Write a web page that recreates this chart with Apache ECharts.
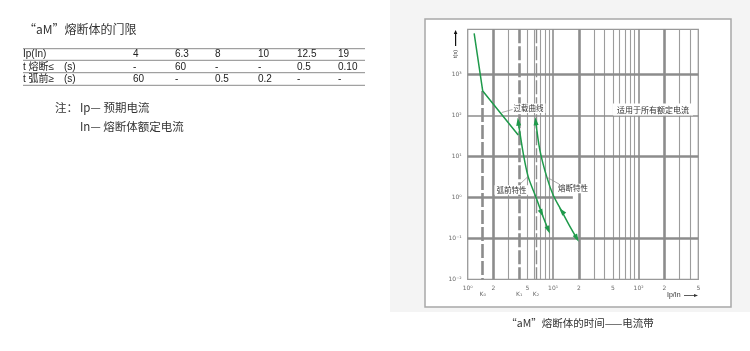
<!DOCTYPE html>
<html><head><meta charset="utf-8">
<script src="https://cdn.jsdelivr.net/npm/echarts@6/dist/echarts.min.js"></script>
<style>html,body{margin:0;padding:0;background:#fff}#c{width:750px;height:351px}</style>
</head><body><div id="c"></div>
<script>
// ---- data ----
const tableCols = ['4', '6.3', '8', '10', '12.5', '19'];
const fuseTimes = ['-', '60', '-', '-', '0.5', '0.10'];
const preArcTimes = ['60', '-', '0.5', '0.2', '-', '-'];

const overloadCurve = [[1.19, 10000], [1.5, 390], [3.9, 33]];
const preArcCurve = [[3.9, 70], [4.5, 10.8], [5.1, 3.2], [6.3, 1], [7.35, 0.41], [8.8, 0.16]];
const meltCurve = [[6.25, 72], [7.0, 14], [8.4, 3.2], [10, 1.14], [12.6, 0.46], [15.4, 0.21], [18.9, 0.1]];

const xLabelVals = [1, 2, 5, 10, 20, 50, 100, 200, 500];
const xLabelTexts = ['10⁰', '2', '5', '10¹', '2', '5', '10²', '2', '5'];
const yLabelVals = [1000, 100, 10, 1, 0.1, 0.01];
const yLabelTexts = ['10³', '10²', '10¹', '10⁰', '10⁻¹', '10⁻²'];
const kVals = [1.5, 4, 6.3];
const kTexts = ['K₀', 'K₁', 'K₂'];

const xGridThin = [3, 5, 6, 7, 8, 9, 30, 40, 50, 60, 70, 80, 90, 300, 400];
const xGridMid = [10, 100];
const xGridThick = [2, 20, 200];
const yGridMid = [100];
const yGridThick = [1000, 10, 0.1];
const k0Top = 390;
const oneSecondLineEnd = 17;

// ---- styles / layout ----
const GREEN = '#1f9a4b';
const GRID_C = '#8c8c8c';
const THIN_C = '#9c9c9c';
const X_MIN = 1, X_MAX = 500, Y_MIN = 0.01, Y_MAX = 12530;

// arrow heads: index -> rotation (deg)
const preArcArrows = {0: 7.5, 4: 205.8, 5: 202};
const meltArrows = {0: 5.8, 4: 40, 6: 208};

function withArrows(curve, arrows) {
  return curve.map((p, i) => arrows[i] !== undefined
    ? {value: p, symbol: 'triangle', symbolSize: [5, 8], symbolRotate: arrows[i], itemStyle: {color: GREEN}}
    : {value: p, symbol: 'none'});
}

const gridLines = [];
xGridThin.forEach(v => gridLines.push({xAxis: v, lineStyle: {color: THIN_C, width: 1.1, type: 'solid'}}));
xGridMid.forEach(v => gridLines.push({xAxis: v, lineStyle: {color: GRID_C, width: 1.6, type: 'solid'}}));
xGridThick.forEach(v => gridLines.push({xAxis: v, lineStyle: {color: GRID_C, width: 2.6, type: 'solid'}}));
yGridMid.forEach(v => gridLines.push({yAxis: v, lineStyle: {color: GRID_C, width: 1.5, type: 'solid'}}));
yGridThick.forEach(v => gridLines.push({yAxis: v, lineStyle: {color: GRID_C, width: 2.6, type: 'solid'}}));
gridLines.push([{coord: [X_MIN, 1], lineStyle: {color: GRID_C, width: 2.6, type: 'solid'}}, {coord: [oneSecondLineEnd, 1]}]);
gridLines.push([{coord: [kVals[0], k0Top], lineStyle: {color: GRID_C, width: 2.6, type: [14, 3]}}, {coord: [kVals[0], Y_MIN]}]);
gridLines.push([{coord: [kVals[1], Y_MAX], lineStyle: {color: GRID_C, width: 2.6, type: [14, 3]}}, {coord: [kVals[1], Y_MIN]}]);
gridLines.push([{coord: [kVals[2], Y_MAX], lineStyle: {color: GRID_C, width: 1.4, type: [14, 3]}}, {coord: [kVals[2], Y_MIN]}]);

const FONT_LAT = "'Liberation Sans', 'Noto Sans CJK SC', sans-serif";
const FONT_CJK = "'Noto Sans CJK SC', 'Liberation Sans', sans-serif";
const FONT_SUP = "'DejaVu Sans', sans-serif";

const g = [
  {type: 'rect', shape: {x: 390, y: 0, width: 360, height: 312}, style: {fill: '#f4f4f4'}, z: -10, silent: true},
  {type: 'rect', shape: {x: 425, y: 19, width: 306, height: 288}, style: {fill: '#fff', stroke: '#a8a8a8', lineWidth: 1.5}, z: -9, silent: true},
  {type: 'text', x: 24, y: 29, style: {text: '“aM”熔断体的门限', font: "12px " + FONT_CJK, fill: '#333', verticalAlign: 'middle'}},
  {type: 'text', x: 55, y: 108, style: {text: '注：', font: "11.5px " + FONT_CJK, fill: '#333', verticalAlign: 'middle'}},
  {type: 'text', x: 80, y: 108, style: {text: 'Ip— 预期电流', font: "11.5px " + FONT_CJK, fill: '#333', verticalAlign: 'middle'}},
  {type: 'text', x: 80, y: 127, style: {text: 'In— 熔断体额定电流', font: "11.5px " + FONT_CJK, fill: '#333', verticalAlign: 'middle'}},
  {type: 'text', x: 580, y: 323, style: {text: '“aM”熔断体的时间——电流带', font: "10.5px " + FONT_CJK, fill: '#333', align: 'center', verticalAlign: 'middle'}}
];
[48.7, 60.3, 72.7, 85.3].forEach(y => g.push({type: 'line', shape: {x1: 23, y1: y, x2: 365, y2: y}, style: {stroke: '#8a8a8a', lineWidth: 1}}));
const colX = [133, 175, 215, 258, 297, 338];
const rowY = [54.2, 66.8, 79.3];
const rowLabels = ['Ip(In)', 't 熔断≤', 't 弧前≥'];
rowLabels.forEach((t, i) => g.push({type: 'text', x: 23, y: rowY[i], style: {text: t, font: "10px " + FONT_LAT, fill: '#222', verticalAlign: 'middle'}}));
[1, 2].forEach(i => g.push({type: 'text', x: 64, y: rowY[i], style: {text: '(s)', font: "10px " + FONT_LAT, fill: '#222', verticalAlign: 'middle'}}));
[tableCols, fuseTimes, preArcTimes].forEach((row, r) => row.forEach((t, c) => g.push({
  type: 'text', x: colX[c], y: rowY[r], style: {text: t, font: "10px " + FONT_LAT, fill: '#222', verticalAlign: 'middle'}
})));
function note(text, cx, cy, size, pad) {
  return {type: 'text', x: cx, y: cy, z: 20, style: {text: text, font: size + "px " + FONT_CJK, fill: '#333', align: 'center', verticalAlign: 'middle', backgroundColor: '#fff', padding: pad}};
}
g.push(note('过载曲线', 528.5, 108.3, 7.5, [1, 2]));
g.push(note('适用于所有额定电流', 653, 109.5, 8, [2, 4]));
g.push(note('弧前特性', 511.5, 190, 7.5, [1, 2]));
g.push(note('熔断特性', 573, 188.5, 7.5, [1, 2]));
[[512.5, 109.5, 501.7, 112.5], [520, 184, 527.5, 177], [546.5, 177, 559, 184]].forEach(l =>
  g.push({type: 'line', z: 21, shape: {x1: l[0], y1: l[1], x2: l[2], y2: l[3]}, style: {stroke: '#888', lineWidth: 0.7}}));
g.push({type: 'line', shape: {x1: 455.6, y1: 46, x2: 455.6, y2: 33}, style: {stroke: '#111', lineWidth: 1.2}});
g.push({type: 'polygon', shape: {points: [[453.8, 34], [455.6, 30], [457.4, 34]]}, style: {fill: '#111'}});
g.push({type: 'text', x: 455.6, y: 54, rotation: Math.PI / 2, style: {text: 't(s)', font: "5.5px " + FONT_LAT, fill: '#333', align: 'center', verticalAlign: 'middle'}});
g.push({type: 'text', x: 667, y: 295.5, style: {text: 'Ip/In', font: "7px " + FONT_LAT, fill: '#333', verticalAlign: 'middle'}});
g.push({type: 'line', shape: {x1: 684, y1: 295.5, x2: 696, y2: 295.5}, style: {stroke: '#333', lineWidth: 0.8}});
g.push({type: 'polygon', shape: {points: [[694, 294], [698, 295.5], [694, 297]]}, style: {fill: '#333'}});

function labelSeries(points, texts, pos, dist, font, size) {
  return {
    type: 'scatter', symbolSize: 0, silent: true, animation: false, z: 6,
    data: points.map((p, i) => ({value: p, label: {formatter: texts[i]}})),
    label: {show: true, position: pos, distance: dist, fontFamily: font, fontSize: size, color: '#444'}
  };
}

const chart = echarts.init(document.getElementById('c'));
chart.setOption({
  animation: false,
  backgroundColor: '#fff',
  graphic: g,
  grid: {left: 467.7, right: 51.7, top: 29.3, bottom: 71.7, show: true, borderColor: '#999', borderWidth: 1.3, backgroundColor: 'transparent'},
  xAxis: {type: 'log', logBase: 10, min: X_MIN, max: X_MAX, axisLine: {show: false}, axisTick: {show: false}, axisLabel: {show: false}, splitLine: {show: false}},
  yAxis: {type: 'log', logBase: 10, min: Y_MIN, max: Y_MAX, axisLine: {show: false}, axisTick: {show: false}, axisLabel: {show: false}, splitLine: {show: false}},
  series: [
    {type: 'line', data: [], silent: true, z: 1,
      markLine: {z: 1, symbol: ['none', 'none'], silent: true, animation: false, label: {show: false}, data: gridLines}},
    {type: 'line', data: overloadCurve, symbol: 'none', z: 5, lineStyle: {color: GREEN, width: 1.5}},
    {type: 'line', data: withArrows(preArcCurve, preArcArrows), showSymbol: true, smooth: 0.3, z: 5, lineStyle: {color: GREEN, width: 1.5}, itemStyle: {color: GREEN}},
    {type: 'line', data: withArrows(meltCurve, meltArrows), showSymbol: true, smooth: 0.3, z: 5, lineStyle: {color: GREEN, width: 1.5}, itemStyle: {color: GREEN}},
    labelSeries(xLabelVals.map(v => [v, Y_MIN]), xLabelTexts, 'bottom', 6, FONT_SUP, 6),
    labelSeries(kVals.map(v => [v, Y_MIN]), kTexts, 'bottom', 12.5, FONT_SUP, 6),
    labelSeries(yLabelVals.map(v => [X_MIN, v]), yLabelTexts, 'left', 6, FONT_SUP, 6)
  ]
});
</script></body></html>
